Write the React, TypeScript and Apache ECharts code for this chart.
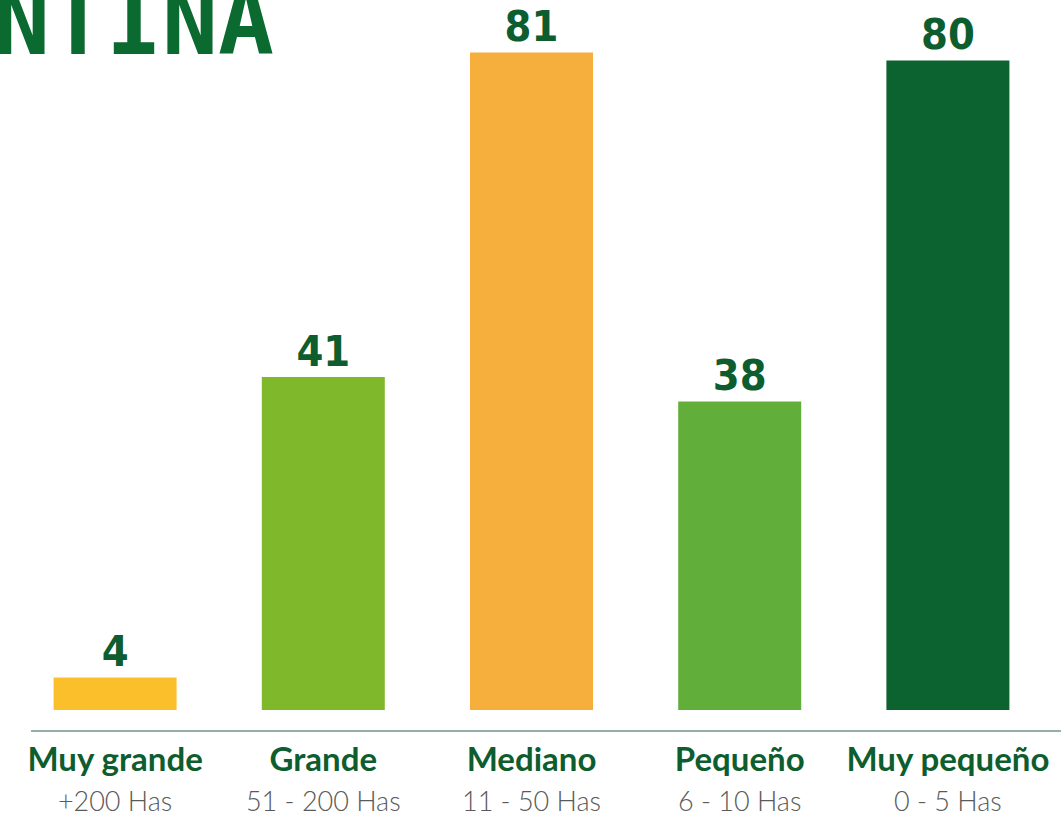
import React, { useEffect, useRef } from "react";
import * as echarts from "echarts";

const categories = ["Muy grande", "Grande", "Mediano", "Pequeño", "Muy pequeño"];
const ranges = ["+200 Has", "51 - 200 Has", "11 - 50 Has", "6 - 10 Has", "0 - 5 Has"];
const values = [4, 41, 81, 38, 80];
const barColors = ["#fbbf2c", "#80b82b", "#f6ae3c", "#62ae3a", "#0c6330"];
const titleText = "NTINA";

const DARK = "#0d5d2f";

export default function App() {
  const ref = useRef<HTMLDivElement>(null);
  useEffect(() => {
    if (!ref.current) return;
    const chart = echarts.init(ref.current, undefined, { renderer: "svg" });
    chart.setOption({
      animation: false,
      backgroundColor: "#ffffff",
      grid: { left: 11, right: 9, top: 20, bottom: 86 },
      graphic: [
        {
          type: "text",
          left: -6,
          top: -25,
          style: {
            text: titleText,
            fill: "#0b6a30",
            font: "bold 93px 'DejaVu Sans Mono'",
          },
        },
        {
          type: "line",
          shape: { x1: 31, y1: 731, x2: 1061, y2: 731 },
          style: { stroke: "#6f948a", lineWidth: 1.5 },
        },
      ],
      xAxis: {
        type: "category",
        data: categories,
        axisLine: { show: false },
        axisTick: { show: false },
        axisLabel: {
          interval: 0,
          margin: 0,
          formatter: (v: string, i: number) => `{a|${v}}\n{b|${ranges[i]}}`,
          rich: {
            a: {
              fontFamily: "Lato",
              fontWeight: "bold",
              fontSize: 33,
              color: DARK,
              lineHeight: 54,
            },
            b: {
              fontFamily: "Lato",
              fontWeight: 300,
              fontSize: 27,
              color: "#5a5a5a",
              lineHeight: 30,
            },
          },
        },
      },
      yAxis: {
        type: "value",
        min: -2.6,
        max: 85,
        show: false,
        splitLine: { show: false },
      },
      series: [
        {
          type: "bar",
          barWidth: 123,
          data: values.map((v, i) => ({ value: v, itemStyle: { color: barColors[i] } })),
          label: {
            show: true,
            position: "top",
            distance: 5,
            fontFamily: "'DejaVu Sans Condensed', 'DejaVu Sans', sans-serif",
            fontWeight: "bold",
            fontSize: 43,
            color: DARK,
          },
        },
      ],
    });
    return () => chart.dispose();
  }, []);
  return (
    <div
      ref={ref}
      style={{ position: "fixed", left: 0, top: 0, width: 1061, height: 817 }}
    />
  );
}
